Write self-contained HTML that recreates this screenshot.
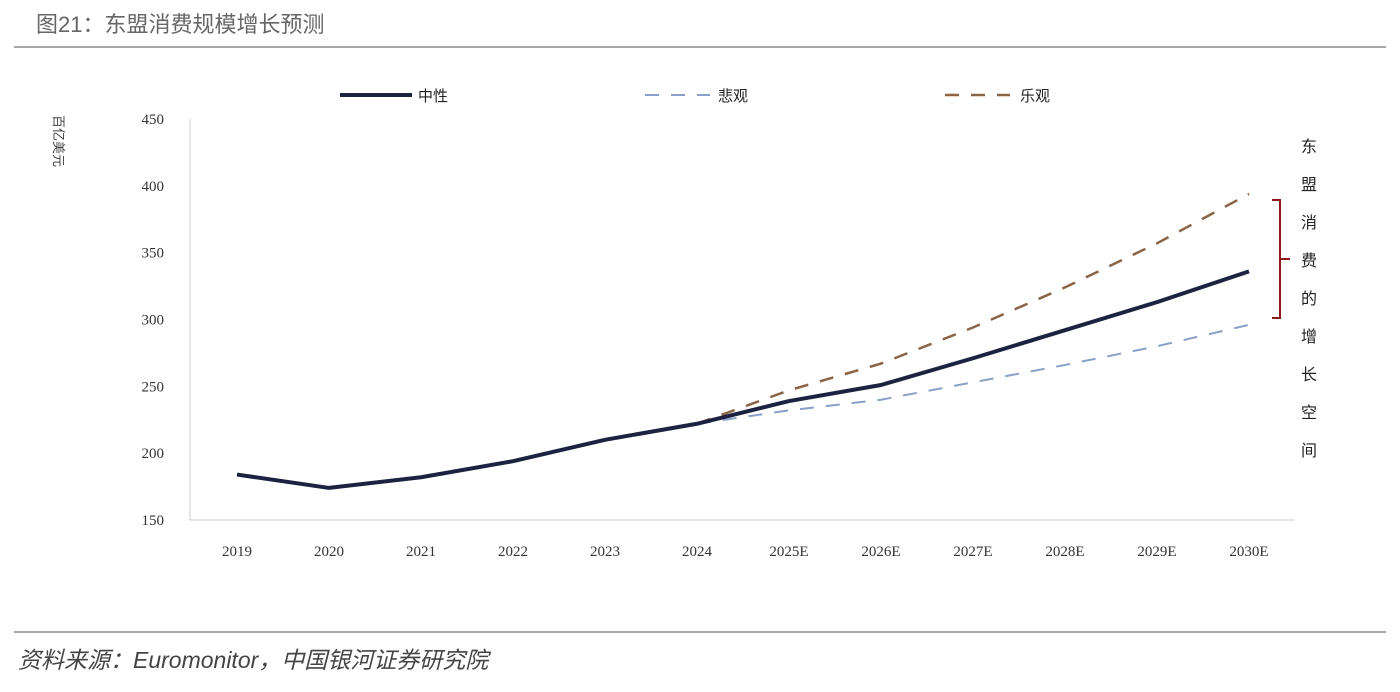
<!DOCTYPE html>
<html><head><meta charset="utf-8"><style>
body{margin:0;background:#fff;width:1400px;height:687px;overflow:hidden;font-family:"Liberation Serif","Noto Serif CJK SC",serif;}
</style></head><body>
<svg width="1400" height="687" xmlns="http://www.w3.org/2000/svg">
<text x="36" y="32" font-size="22" fill="#666" font-family="Liberation Sans,Noto Sans CJK SC,sans-serif">图21：东盟消费规模增长预测</text>
<line x1="14" y1="47" x2="1386" y2="47" stroke="#8a8a8a" stroke-width="1.5"/>
<line x1="14" y1="632" x2="1386" y2="632" stroke="#8a8a8a" stroke-width="1.5"/>
<text x="18" y="668" font-size="23" font-style="italic" fill="#444" font-family="Liberation Sans,Noto Sans CJK SC,sans-serif">资料来源：Euromonitor，中国银河证券研究院</text>
<text transform="translate(54,115) rotate(90)" font-size="13" fill="#444" font-family="Liberation Sans,Noto Sans CJK SC,sans-serif">百亿美元</text>
<g id="axes"></g>
<g id="legend" font-size="15" font-family="Liberation Sans,Noto Sans CJK SC,sans-serif" fill="#222">
<line x1="340" y1="95" x2="412" y2="95" stroke="#1b2340" stroke-width="4"/>
<text x="418" y="101">中性</text>
<line x1="645" y1="95" x2="710" y2="95" stroke="#8aa0c8" stroke-width="2" stroke-dasharray="14,12"/>
<text x="718" y="101">悲观</text>
<line x1="945" y1="95" x2="1010" y2="95" stroke="#8a6446" stroke-width="2.5" stroke-dasharray="14,12"/>
<text x="1020" y="101">乐观</text>
</g>
<path d="M1272 200 H1280 V318 H1272 M1280 259 H1290" fill="none" stroke="#8b1a1a" stroke-width="2"/>
<g font-size="16" fill="#222" font-family="Liberation Sans,Noto Sans CJK SC,sans-serif">
<text x="1301" y="152">东</text><text x="1301" y="190">盟</text><text x="1301" y="228">消</text><text x="1301" y="266">费</text><text x="1301" y="304">的</text><text x="1301" y="342">增</text><text x="1301" y="380">长</text><text x="1301" y="418">空</text><text x="1301" y="456">间</text>
</g>
<g id="series"></g>
</svg>
<script>
const categories=["2019","2020","2021","2022","2023","2024","2025E","2026E","2027E","2028E","2029E","2030E"];
const neutral=[184,174,182,194,210,222,239,251,271,292,313,336];
const optimistic=[null,null,null,null,null,222,247,267,294,324,357,394];
const pessimistic=[null,null,null,null,null,222,232,240,253,266,280,296];
const yTicks=[150,200,250,300,350,400,450];
const NS="http://www.w3.org/2000/svg";
const x=i=>237+i*92;
const y=v=>520-(v-150)*401/300;
const ax=document.getElementById('axes');
function mk(tag,attrs,parent){const e=document.createElementNS(NS,tag);for(const k in attrs)e.setAttribute(k,attrs[k]);parent.appendChild(e);return e;}
let l=mk('line',{x1:190,y1:119,x2:190,y2:520,stroke:'#ccc'},ax);


l=mk('line',{x1:190,y1:520,x2:1295,y2:520,stroke:'#ccc'},ax);


yTicks.forEach(v=>{const t=mk('text',{x:164,y:y(v)+5,'font-size':15,'text-anchor':'end',fill:'#333'},ax);t.textContent=v;

});
categories.forEach((c,i)=>{const t=mk('text',{x:x(i),y:556,'font-size':15,'text-anchor':'middle',fill:'#333'},ax);t.textContent=c;

});
const sg=document.getElementById('series');
function pts(arr){return arr.map((v,i)=>v==null?null:x(i)+','+y(v)).filter(p=>p).join(' ');}
let p=mk('polyline',{points:pts(optimistic),fill:'none',stroke:'#8a6446','stroke-width':2.5,'stroke-dasharray':'14,12'},sg);


p=mk('polyline',{points:pts(pessimistic),fill:'none',stroke:'#8aa0c8','stroke-width':2,'stroke-dasharray':'14,12'},sg);


p=mk('polyline',{points:pts(neutral),fill:'none',stroke:'#1b2340','stroke-width':4,'stroke-linejoin':'round'},sg);


</script>
</body></html>
